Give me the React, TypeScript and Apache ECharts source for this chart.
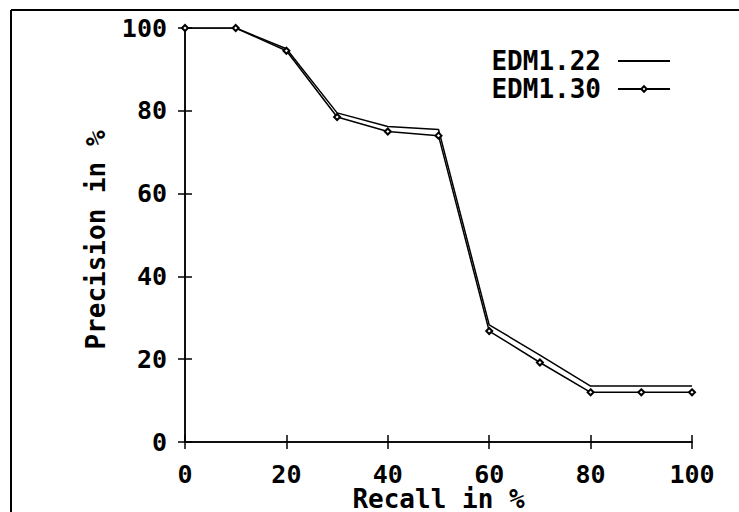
import React, { useEffect, useRef } from "react";
import * as echarts from "echarts";

const recall = [0, 10, 20, 30, 40, 50, 60, 70, 80, 90, 100];
const edm122 = [100, 100, 95, 79.5, 76.2, 75.5, 28.3, 21, 13.5, 13.5, 13.5];
const edm130 = [100, 100, 94.5, 78.5, 75, 74, 26.8, 19.2, 12, 12, 12];
const seriesNames = ["EDM1.22", "EDM1.30"];
const xTitle = "Recall in %";
const yTitle = "Precision in %";

const FONT = "DejaVu Sans Mono";

export default function App() {
  const ref = useRef<HTMLDivElement>(null);
  useEffect(() => {
    if (!ref.current) return;
    const chart = echarts.init(ref.current, null, { renderer: "svg" });
    const txt = { fontFamily: FONT, fontWeight: "bold" as const, fontSize: 25, color: "#000" };
    const axisCommon = {
      type: "value" as const,
      min: 0,
      max: 100,
      interval: 20,
      splitLine: { show: false },
      axisLine: { show: true, lineStyle: { color: "#000", width: 1.5 } },
      axisTick: { show: true, inside: true, length: 7, lineStyle: { color: "#000", width: 1.5 } },
    };
    chart.setOption({
      animation: false,
      backgroundColor: "#fff",
      grid: {
        left: 185,
        top: 28,
        width: 507,
        height: 414,
        containLabel: false,
        outerBoundsMode: "none",
      },
      xAxis: [
        {
          ...axisCommon,
          position: "bottom",
          axisLabel: { ...txt, margin: 20, lineHeight: 24 },
          name: xTitle,
          nameLocation: "middle",
          nameGap: 46,
          nameMoveOverlap: false,
          nameTextStyle: { ...txt, fontSize: 26, lineHeight: 22 },
        },
        { ...axisCommon, position: "top", axisLabel: { show: false } },
      ],
      yAxis: [
        {
          ...axisCommon,
          position: "left",
          axisLabel: { ...txt, margin: 18 },
          name: yTitle,
          nameLocation: "middle",
          nameGap: 76,
          nameMoveOverlap: false,
          nameTextStyle: { ...txt, fontSize: 26, padding: [0, 10, 0, 0] },
        },
        { ...axisCommon, position: "right", axisLabel: { show: false } },
      ],
      legend: {
        orient: "vertical",
        right: 63,
        top: 43,
        align: "right",
        itemWidth: 52,
        itemHeight: 7,
        itemGap: 2,
        textStyle: { ...txt, fontSize: 26, lineHeight: 24, padding: [0, 12, 0, 0] },
        data: [
          { name: seriesNames[0], itemStyle: { opacity: 0, color: "transparent", borderWidth: 0 } },
          { name: seriesNames[1] },
        ],
      },
      graphic: [
        { type: "line", shape: { x1: 11, y1: 10, x2: 739, y2: 10 }, style: { stroke: "#000", lineWidth: 2 } },
        { type: "line", shape: { x1: 11, y1: 10, x2: 11, y2: 512 }, style: { stroke: "#000", lineWidth: 2 } },
      ],
      series: [
        {
          name: seriesNames[0],
          type: "line",
          data: recall.map((x, i) => [x, edm122[i]]),
          symbol: "none",
          lineStyle: { color: "#000", width: 1.5 },
          itemStyle: { color: "#000" },
        },
        {
          name: seriesNames[1],
          type: "line",
          data: recall.map((x, i) => [x, edm130[i]]),
          symbol: "emptyDiamond",
          symbolSize: 6,
          lineStyle: { color: "#000", width: 1.5 },
          itemStyle: { color: "#000", borderColor: "#000", borderWidth: 1 },
        },
      ],
    });
    return () => chart.dispose();
  }, []);
  return (
    <div
      ref={ref}
      style={{ position: "fixed", left: 0, top: 0, width: 739, height: 512, background: "#fff" }}
    />
  );
}
